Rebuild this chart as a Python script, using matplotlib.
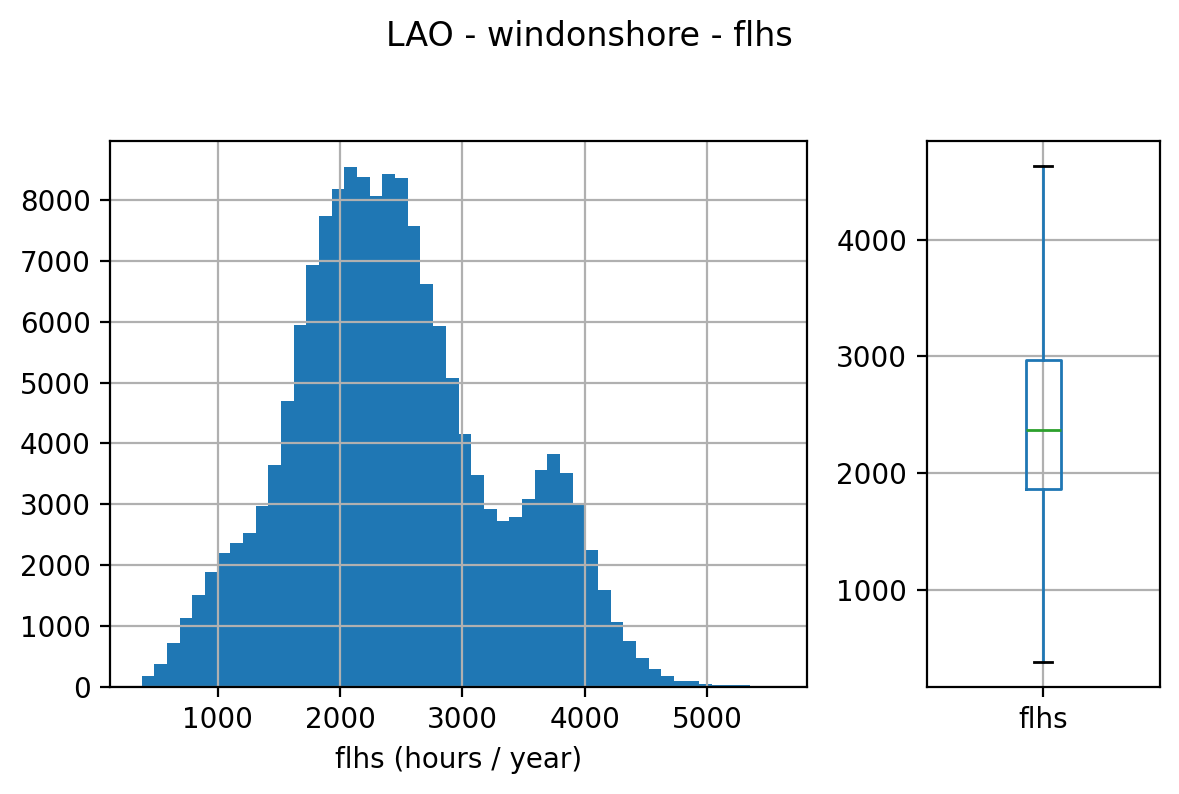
import matplotlib
matplotlib.use("Agg")
import matplotlib.pyplot as plt
import numpy as np

title = "LAO - windonshore - flhs"
xlabel = "flhs (hours / year)"
boxname = "flhs"

# histogram, 50 equal bins between the lowest and highest value
flhs_min = 378
flhs_max = 5559
counts = [175, 373, 718, 1129, 1507, 1885, 2197, 2362, 2526, 2970,
          3644, 4695, 5944, 6930, 7735, 8179, 8540, 8376, 8064, 8425,
          8360, 7571, 6618, 5927, 5073, 4153, 3478, 2916, 2719, 2800,
          3080, 3560, 3825, 3515, 3000, 2245, 1590, 1060, 750, 475,
          295, 180, 95, 95, 45, 32, 30, 28, 6, 3]

# box plot numbers
whislo = 379
q1 = 1865
med = 2371
q3 = 2970
whishi = 4633

W = 1179
H = 794
fig = plt.figure(figsize=(W / 200, H / 200), dpi=200)
ax = fig.add_axes([110 / W, (H - 687) / H, 697 / W, 546 / H])
ax2 = fig.add_axes([926.6 / W, (H - 687) / H, 233 / W, 546 / H])

edges = np.linspace(flhs_min, flhs_max, len(counts) + 1)
ax.hist(edges[:-1], bins=edges, weights=counts, color="#1f77b4")
ax.grid(True)
ax.set_xlabel(xlabel)

stats = [{"whislo": whislo, "q1": q1, "med": med, "q3": q3, "whishi": whishi,
          "fliers": [], "label": boxname}]
ax2.bxp(stats,
        boxprops={"color": "#1f77b4"},
        whiskerprops={"color": "#1f77b4"},
        medianprops={"color": "#2ca02c"},
        capprops={"color": "black"})
ax2.grid(True)

fig.suptitle(title, x=0.5, y=1 - 37 / H, va="center", fontsize=12)
fig.savefig("out.png", dpi=200)
